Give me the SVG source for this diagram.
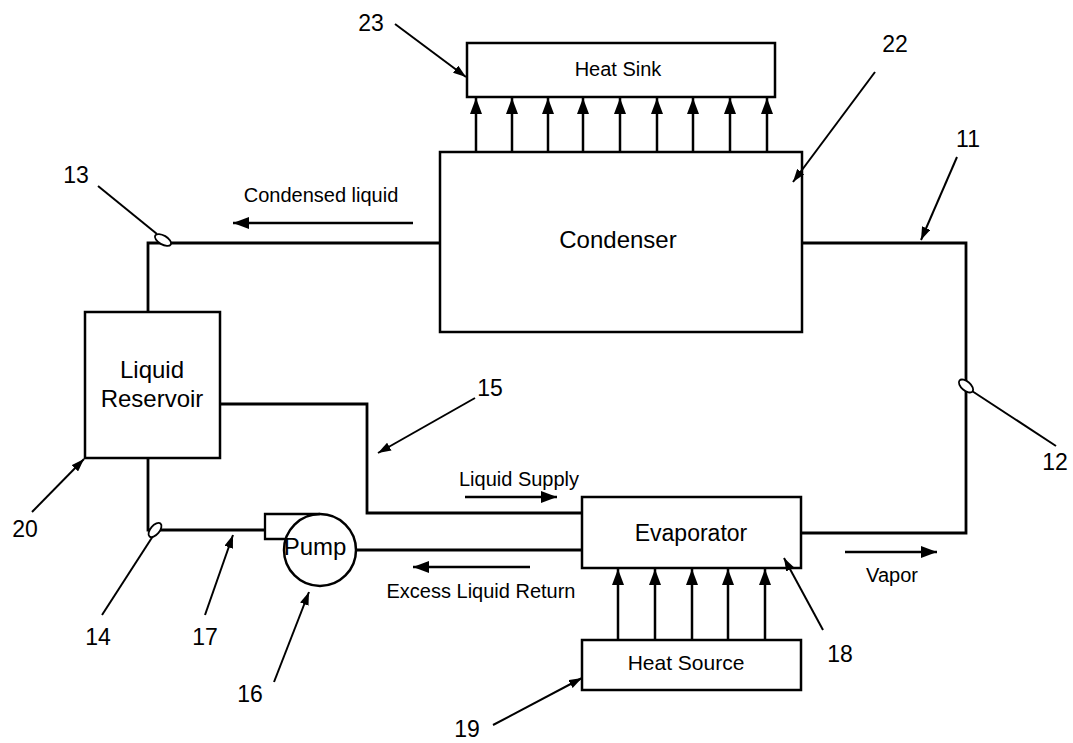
<svg xmlns="http://www.w3.org/2000/svg" width="1073" height="743" viewBox="0 0 1073 743">
<defs>
<style>
.box{fill:#fff;stroke:#000;stroke-width:2.5}
.pipe{fill:none;stroke:#000;stroke-width:2.8}
.flow{fill:none;stroke:#000;stroke-width:2.5}
.lead{fill:none;stroke:#000;stroke-width:2}
.valve{fill:#fff;stroke:#000;stroke-width:1.8}
text{font-family:"Liberation Sans",Arial,sans-serif;fill:#000;text-anchor:middle}
.big{font-size:24px}
.lbl{font-size:20px}
.num{font-size:23px}
</style>
<marker id="ah" viewBox="0 0 16 12" refX="16" refY="6" markerWidth="16" markerHeight="12" markerUnits="userSpaceOnUse" orient="auto">
<path d="M0,0 L16,6 L0,12 z" fill="#000"/>
</marker>
<marker id="lh" viewBox="0 0 13 9" refX="13" refY="4.5" markerWidth="13" markerHeight="9" markerUnits="userSpaceOnUse" orient="auto">
<path d="M0,0 L13,4.5 L0,9 z" fill="#000"/>
</marker>
</defs>
<rect width="1073" height="743" fill="#fff"/>

<g id="heat-sink"><rect class="box" x="467" y="43" width="308" height="54"/><text class="lbl" x="618" y="76">Heat Sink</text></g>
<g id="condenser"><rect class="box" x="440" y="152" width="362" height="180"/><text class="big" x="618" y="248">Condenser</text></g>
<g id="liquid-reservoir"><rect class="box" x="85" y="312" width="135" height="146"/><text class="big" x="152" y="378">Liquid</text><text class="big" x="152" y="407">Reservoir</text></g>
<g id="evaporator"><rect class="box" x="582" y="497" width="219" height="71"/><text class="big" x="691" y="541" style="font-size:23px">Evaporator</text></g>
<g id="heat-source"><rect class="box" x="582" y="640" width="219" height="50"/><text class="lbl" x="686" y="670" style="font-size:21px">Heat Source</text></g>
<g id="pump"><circle class="box" cx="320" cy="550" r="36"/><path class="pipe" d="M320,514 H265 V539 H286" style="stroke-width:2.3"/><text class="big" x="315" y="555">Pump</text></g>

<g id="connectors">
<path class="pipe" d="M440,243 H148 V312"/>
<path class="pipe" d="M802,243 H966 V533 H801"/>
<path class="pipe" d="M220,404 H367 V513 H582"/>
<path class="pipe" d="M148,458 V530 H265"/>
<path class="pipe" d="M356,550 H582"/>
<g id="heat-sink-arrows" class="flow" marker-end="url(#ah)">
<line x1="476" y1="152" x2="476" y2="98"/>
<line x1="512" y1="152" x2="512" y2="98"/>
<line x1="548" y1="152" x2="548" y2="98"/>
<line x1="583" y1="152" x2="583" y2="98"/>
<line x1="620" y1="152" x2="620" y2="98"/>
<line x1="657" y1="152" x2="657" y2="98"/>
<line x1="693" y1="152" x2="693" y2="98"/>
<line x1="730" y1="152" x2="730" y2="98"/>
<line x1="767" y1="152" x2="767" y2="98"/>
</g>
<g id="heat-source-arrows" class="flow" marker-end="url(#ah)">
<line x1="618" y1="640" x2="618" y2="569"/>
<line x1="655" y1="640" x2="655" y2="569"/>
<line x1="692" y1="640" x2="692" y2="569"/>
<line x1="728" y1="640" x2="728" y2="569"/>
<line x1="765" y1="640" x2="765" y2="569"/>
</g>
<g id="flow-arrows" class="flow" marker-end="url(#ah)">
<line x1="413" y1="223" x2="233" y2="223"/>
<line x1="465" y1="497" x2="557" y2="497"/>
<line x1="530" y1="567" x2="413" y2="567"/>
<line x1="845" y1="552" x2="937" y2="552"/>
</g>
<g id="leaders" class="lead">
<line x1="395" y1="24" x2="466" y2="77" marker-end="url(#lh)"/>
<line x1="875" y1="72" x2="793" y2="182" marker-end="url(#lh)"/>
<line x1="957" y1="157" x2="921" y2="240" marker-end="url(#lh)"/>
<line x1="98" y1="186" x2="157" y2="234"/>
<line x1="1056" y1="446" x2="972" y2="391"/>
<line x1="475" y1="398" x2="378" y2="453" marker-end="url(#lh)"/>
<line x1="32" y1="512" x2="84" y2="459" marker-end="url(#lh)"/>
<line x1="102" y1="615" x2="153" y2="536"/>
<line x1="205" y1="615" x2="233" y2="535" marker-end="url(#lh)"/>
<line x1="274" y1="682" x2="309" y2="592" marker-end="url(#lh)"/>
<line x1="823" y1="630" x2="784" y2="558" marker-end="url(#lh)"/>
<line x1="493" y1="725" x2="582" y2="678" marker-end="url(#lh)"/>
</g>
</g>

<g id="valve-13"><ellipse class="valve" cx="163" cy="240" rx="9" ry="4.5" transform="rotate(30 163 240)"/></g>
<g id="valve-12"><ellipse class="valve" cx="966" cy="386" rx="8.5" ry="4.5" transform="rotate(40 966 386)"/></g>
<g id="valve-14"><ellipse class="valve" cx="155" cy="530" rx="8.5" ry="4.5" transform="rotate(-50 155 530)"/></g>

<g id="labels">
<text class="lbl" x="321" y="202">Condensed liquid</text>
<text class="lbl" x="519" y="486">Liquid Supply</text>
<text class="lbl" x="481" y="598">Excess Liquid Return</text>
<text class="lbl" x="892" y="582">Vapor</text>
<text class="num" x="371" y="31">23</text>
<text class="num" x="895" y="52">22</text>
<text class="num" x="968" y="147">11</text>
<text class="num" x="76" y="183">13</text>
<text class="num" x="490" y="396">15</text>
<text class="num" x="1055" y="470">12</text>
<text class="num" x="25" y="537">20</text>
<text class="num" x="98" y="645">14</text>
<text class="num" x="205" y="645">17</text>
<text class="num" x="250" y="702">16</text>
<text class="num" x="840" y="662">18</text>
<text class="num" x="467" y="737">19</text>
</g>
</svg>
